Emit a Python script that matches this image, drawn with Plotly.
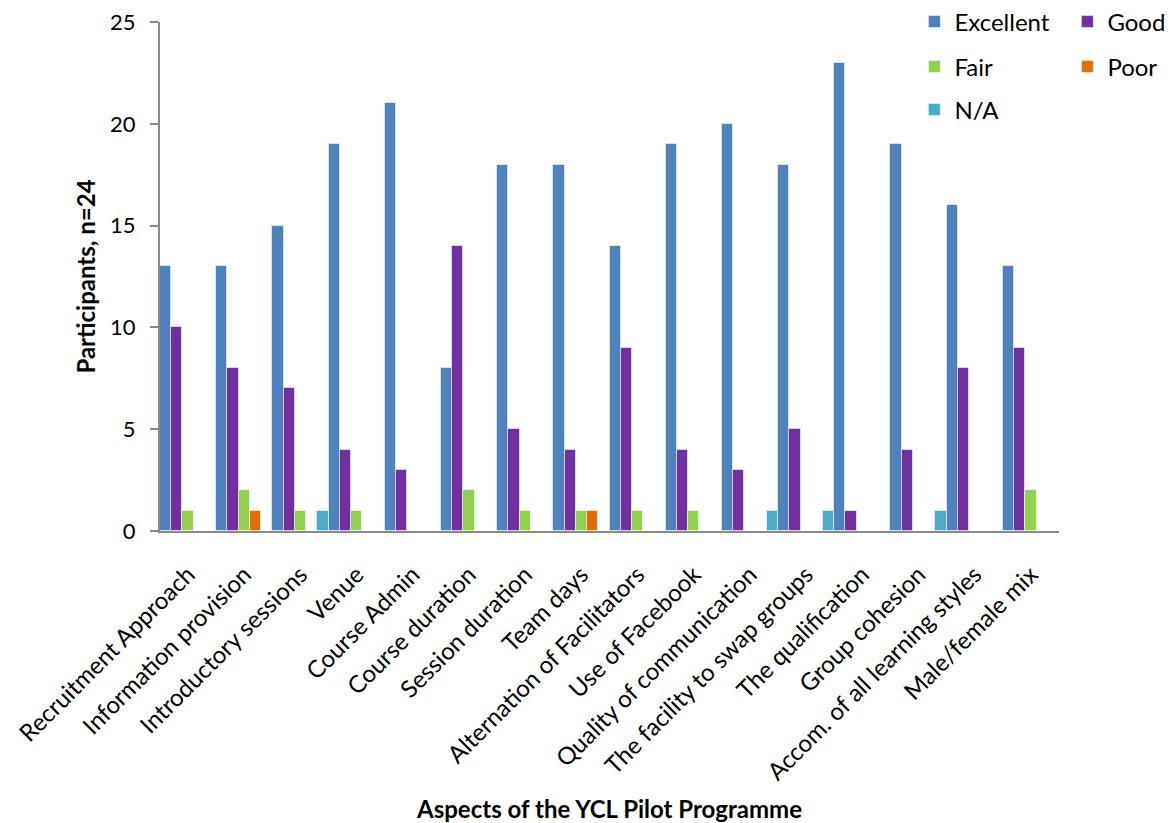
import plotly.graph_objects as go

# Aspects rated by participants of the YCL pilot programme
aspects = [
    "Recruitment Approach", "Information provision", "Introductory sessions",
    "Venue", "Course Admin", "Course duration", "Session duration", "Team days",
    "Alternation of Facilitators", "Use of Facebook", "Quality of communication",
    "The facility to swap groups", "The qualification", "Group cohesion",
    "Accom. of all learning styles", "Male/female mix",
]

excellent = [13, 13, 15, 19, 21, 8, 18, 18, 14, 19, 20, 18, 23, 19, 16, 13]
good      = [10, 8, 7, 4, 3, 14, 5, 4, 9, 4, 3, 5, 1, 4, 8, 9]
fair      = [1, 2, 1, 1, 0, 2, 1, 1, 1, 1, 0, 0, 0, 0, 0, 2]
poor      = [0, 1, 0, 0, 0, 0, 0, 1, 0, 0, 0, 0, 0, 0, 0, 0]
not_app   = [0, 0, 1, 0, 0, 0, 0, 0, 0, 0, 1, 1, 0, 1, 0, 0]

series = [
    ("Excellent", excellent, "#4F81BD", "legend"),
    ("Good", good, "#7030A0", "legend"),
    ("Fair", fair, "#92D050", "legend2"),
    ("Poor", poor, "#E46C0A", "legend2"),
    ("N/A", not_app, "#4BACC6", "legend3"),
]

FONT = "Lato"
AXIS_GREY = "#898989"

fig = go.Figure()
for name, vals, color, leg in series:
    fig.add_trace(go.Bar(
        x=aspects, y=vals, name=name, legend=leg,
        marker=dict(color=color, line=dict(color="rgba(255,255,255,0.55)", width=1)),
    ))

legend_common = dict(
    orientation="h", xref="container", yref="container",
    xanchor="left", yanchor="middle", entrywidth=108,
    font=dict(family=FONT, size=24, color="#000000"),
    bgcolor="rgba(0,0,0,0)", borderwidth=0, itemclick=False,
)
LEG_X = 0.785 - 8 / 1175

fig.update_layout(
    width=1175, height=823,
    margin=dict(l=160, r=116, t=22, b=292, autoexpand=False),
    paper_bgcolor="white", plot_bgcolor="white",
    barmode="group", bargap=0, bargroupgap=0,
    font=dict(family=FONT, color="#000000"),
    legend=dict(**legend_common, x=LEG_X, y=1 - 22 / 823),
    legend2=dict(**legend_common, x=LEG_X, y=1 - 67 / 823),
    legend3=dict(**legend_common, x=LEG_X, y=1 - 110 / 823),
    xaxis=dict(
        showline=True, linecolor=AXIS_GREY, linewidth=2,
        ticks="", tickangle=-45, showgrid=False,
        tickfont=dict(family=FONT, size=24, color="#000000"),
        ticklabelstandoff=18,
        title=dict(text="<b>Aspects of the YCL Pilot Programme</b>",
                   font=dict(family=FONT, size=24, color="#000000"), standoff=18),
    ),
    yaxis=dict(
        range=[0, 25], dtick=5, showline=True, linecolor=AXIS_GREY, linewidth=2,
        ticks="outside", ticklen=8, tickcolor=AXIS_GREY, tickwidth=2,
        showgrid=False, zeroline=False,
        tickfont=dict(family=FONT, size=22, color="#000000"),
        ticklabelstandoff=10,
        title=dict(text="<b>Participants, n=24</b>",
                   font=dict(family=FONT, size=24, color="#000000"), standoff=8),
    ),
)

fig.write_html("out.html")
